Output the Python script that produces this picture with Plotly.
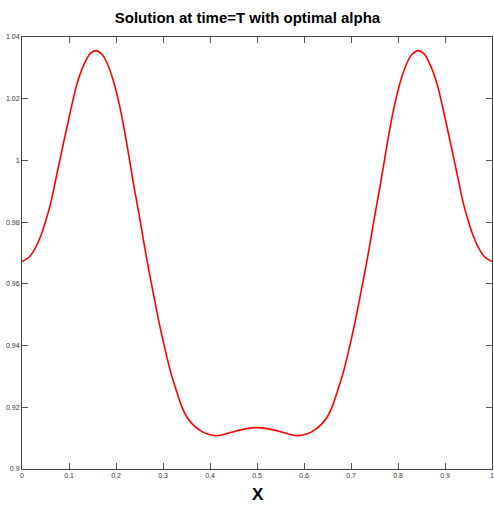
import plotly.graph_objects as go

x_vals = [0.000, 0.016, 0.030, 0.042, 0.051, 0.061, 0.076, 0.088, 0.102, 0.116,
          0.131, 0.145, 0.157, 0.170, 0.180, 0.194, 0.209, 0.223, 0.237, 0.251,
          0.264, 0.278, 0.292, 0.308, 0.317, 0.328, 0.340, 0.350, 0.361, 0.377,
          0.393, 0.411, 0.430, 0.450, 0.475, 0.500,
          0.525, 0.550, 0.570, 0.589, 0.607, 0.623, 0.639, 0.650, 0.660, 0.672,
          0.683, 0.692, 0.708, 0.722, 0.736, 0.749, 0.763, 0.777, 0.791, 0.806,
          0.820, 0.830, 0.843, 0.855, 0.869, 0.884, 0.898, 0.912, 0.924, 0.939,
          0.949, 0.958, 0.970, 0.984, 1.000]
y_vals = [0.9672, 0.9688, 0.9721, 0.9764, 0.9807, 0.9861, 0.9969, 1.0054, 1.0152, 1.0243,
          1.0308, 1.0346, 1.0356, 1.0344, 1.0319, 1.0260, 1.0168, 1.0054, 0.9926, 0.9808,
          0.9692, 0.9580, 0.9472, 0.9364, 0.9310, 0.9256, 0.9202, 0.9170, 0.9148, 0.9127,
          0.9114, 0.9108, 0.9112, 0.9121, 0.9130, 0.9134,
          0.9130, 0.9121, 0.9112, 0.9108, 0.9114, 0.9127, 0.9148, 0.9170, 0.9202, 0.9256,
          0.9310, 0.9364, 0.9472, 0.9580, 0.9692, 0.9808, 0.9926, 1.0054, 1.0168, 1.0260,
          1.0319, 1.0344, 1.0356, 1.0346, 1.0308, 1.0243, 1.0152, 1.0054, 0.9969, 0.9861,
          0.9807, 0.9764, 0.9721, 0.9688, 0.9672]

x_ticks = [0, 0.1, 0.2, 0.3, 0.4, 0.5, 0.6, 0.7, 0.8, 0.9, 1]
x_tick_text = ["0", "0.1", "0.2", "0.3", "0.4", "0.5", "0.6", "0.7", "0.8", "0.9", "1"]
y_ticks = [0.9, 0.92, 0.94, 0.96, 0.98, 1.0, 1.02, 1.04]
y_tick_text = ["0.9", "0.92", "0.94", "0.96", "0.98", "1", "1.02", "1.04"]

sans = "Liberation Sans, Arial, sans-serif"

fig = go.Figure()
fig.add_trace(go.Scatter(x=x_vals, y=y_vals, mode="lines",
                         line=dict(color="#ff0000", width=1.6, shape="spline", smoothing=0.8),
                         showlegend=False))

axis_common = dict(showgrid=False, zeroline=False, showline=True, linecolor="#444444",
                   linewidth=1, mirror="ticks", ticks="inside", ticklen=6,
                   tickcolor="#555555", automargin=False, ticklabeloverflow="allow",
                   tickfont=dict(family=sans, size=7, color="#333333"))

fig.update_xaxes(range=[0, 1], tickvals=x_ticks, ticktext=x_tick_text, **axis_common)
fig.update_yaxes(range=[0.9, 1.04], tickvals=y_ticks, ticktext=y_tick_text, **axis_common)

fig.add_annotation(text="<b>X</b>", xref="paper", yref="paper", x=0.502, y=-0.058,
                   xanchor="center", yanchor="middle", showarrow=False,
                   font=dict(family=sans, size=17, color="black"))

fig.update_layout(
    width=494, height=514,
    margin=dict(l=22, r=2, t=37, b=45),
    paper_bgcolor="white", plot_bgcolor="white",
    title=dict(text="<b>Solution at time=T with optimal alpha</b>", x=0.501, xanchor="center",
               xref="container", y=0.965, yanchor="middle",
               font=dict(family=sans, size=15, color="black")),
)

fig.write_html(
    "out.html",
    config={"displayModeBar": False},
    post_script=(
        "document.body.style.margin='0';"
        "document.body.style.overflow='hidden';"
        "document.documentElement.style.overflow='hidden';"
    ),
)
